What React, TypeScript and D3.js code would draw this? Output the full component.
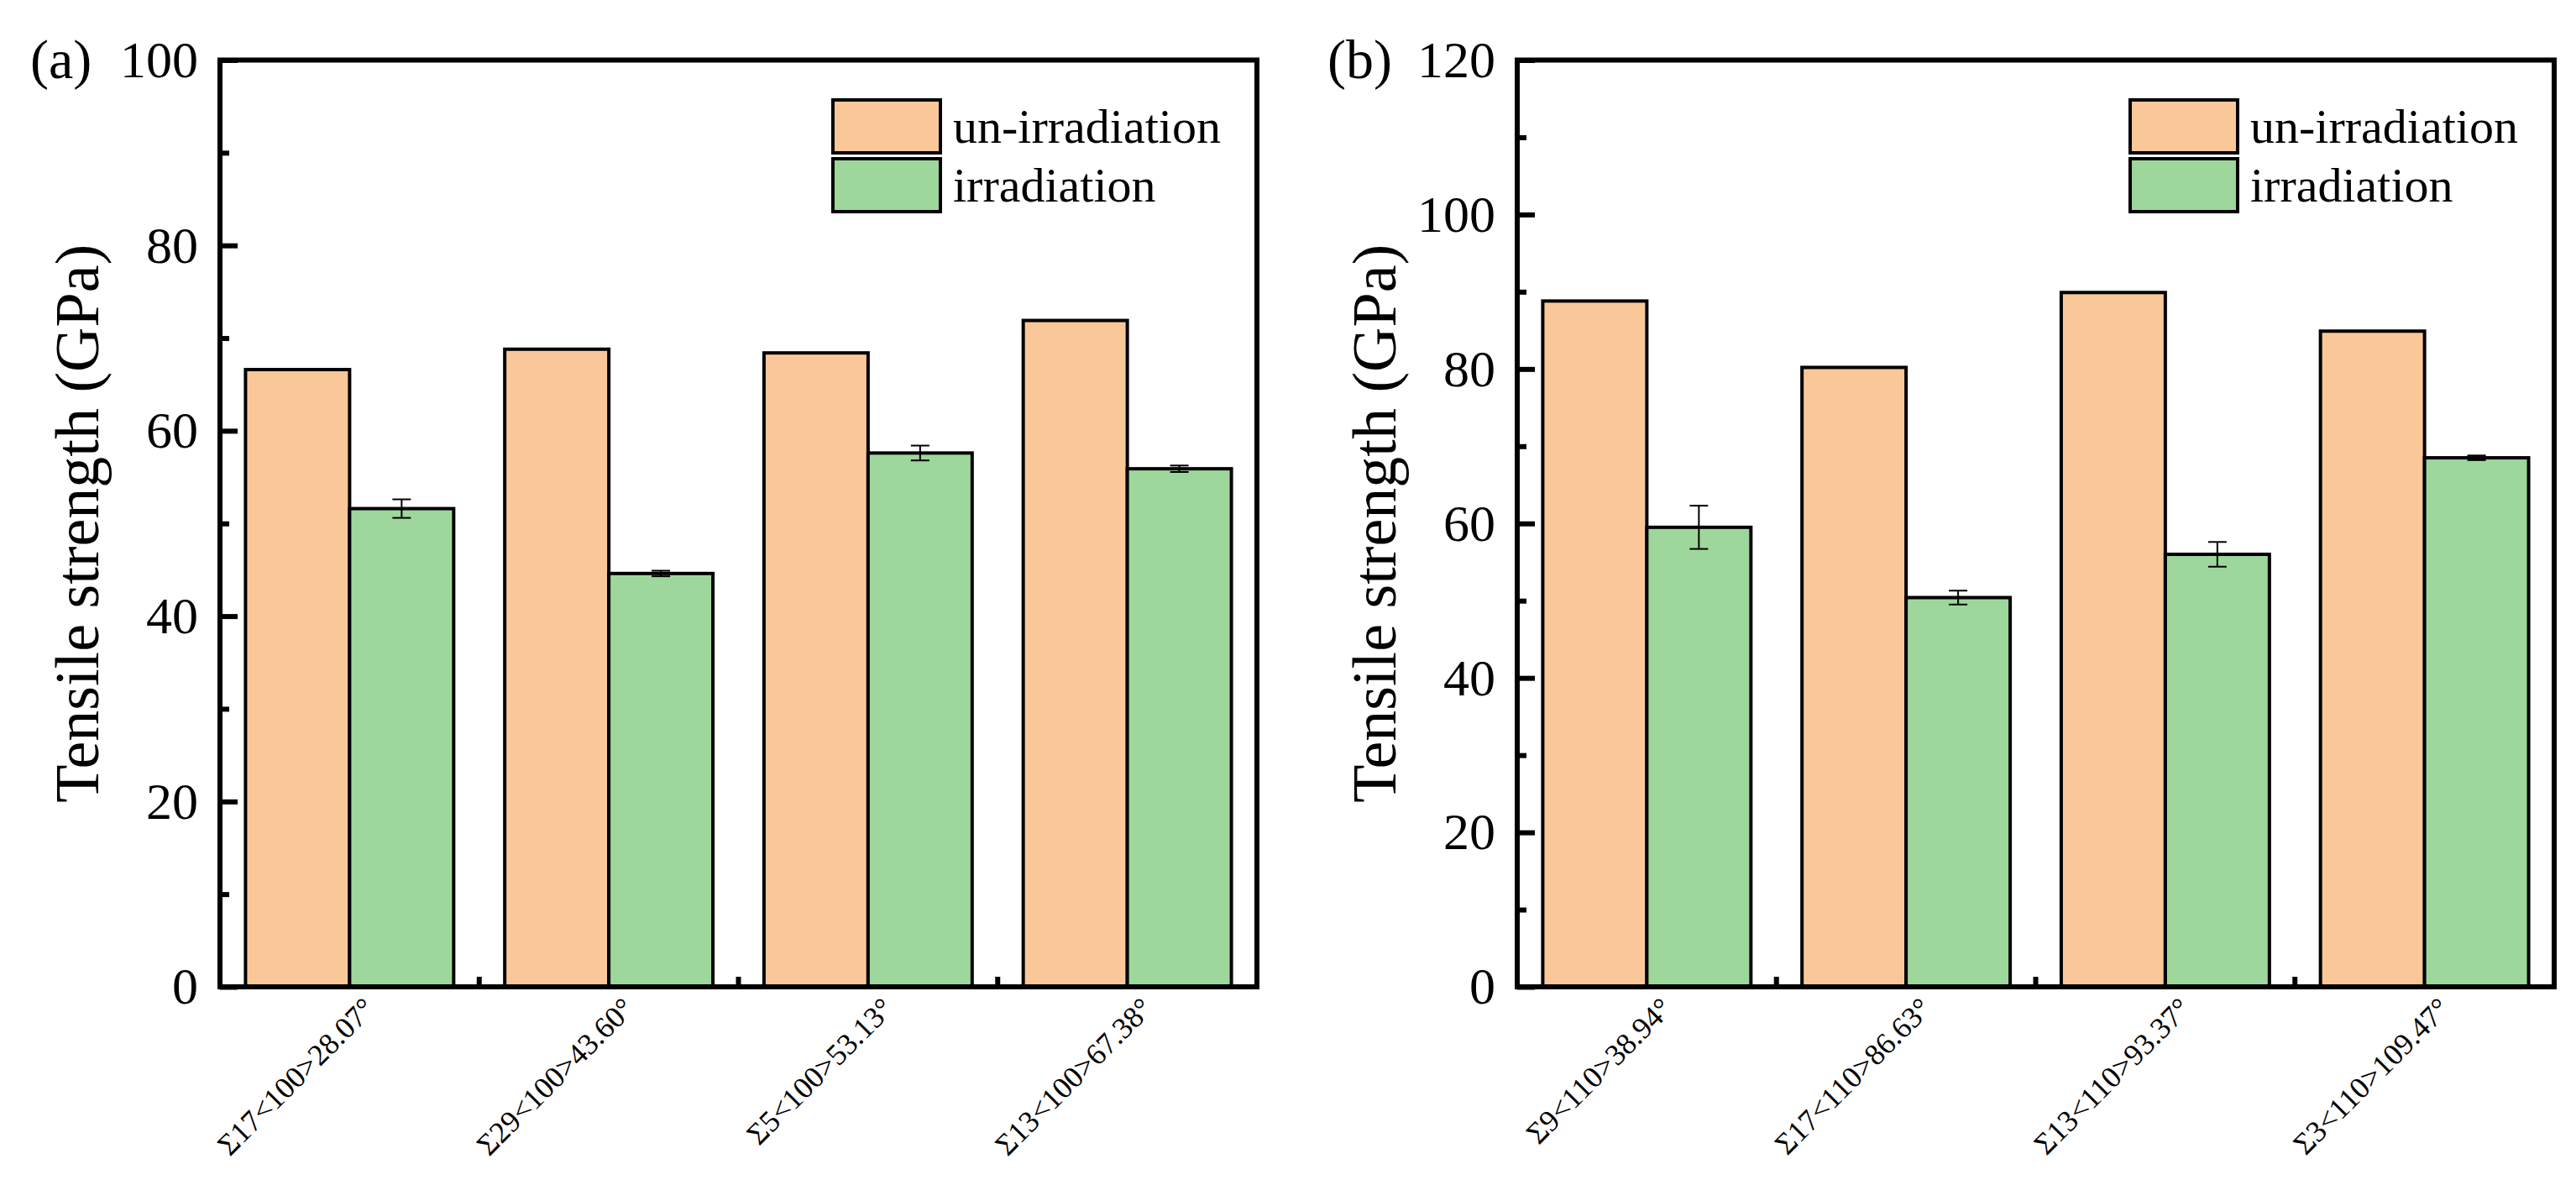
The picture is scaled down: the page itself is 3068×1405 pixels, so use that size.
import React, { useRef, useEffect } from 'react';
import { select, scaleBand, scaleLinear, axisLeft, range } from 'd3';

// panel (a): <100> tilt boundaries
const catsA = ['Σ17<100>28.07°', 'Σ29<100>43.60°', 'Σ5<100>53.13°', 'Σ13<100>67.38°'];
const unirrA = [66.6, 68.8, 68.4, 71.9];
const irrA = [51.6, 44.6, 57.6, 55.9];
const irrErrA = [1.0, 0.3, 0.8, 0.35];

// panel (b): <110> tilt boundaries
const catsB = ['Σ9<110>38.94°', 'Σ17<110>86.63°', 'Σ13<110>93.37°', 'Σ3<110>109.47°'];
const unirrB = [88.8, 80.2, 89.9, 84.9];
const irrB = [59.5, 50.4, 56.0, 68.5];
const irrErrB = [2.8, 0.9, 1.6, 0.3];

const seriesNames = ['un-irradiation', 'irradiation'];
const seriesColors = ['#FAC898', '#9ED79B'];
const yTitle = 'Tensile strength (GPa)';

const FONT = "'Liberation Serif', 'Times New Roman', serif";
const W = 3068;
const H = 1405;
const TOP = 71.5;
const BOTTOM = 1175;
const PW = 1235;

type PanelProps = {
    x0: number;
    tag: string;
    cats: string[];
    unirr: number[];
    irr: number[];
    irrErr: number[];
    yMax: number;
};

function Panel({ x0, tag, cats, unirr, irr, irrErr, yMax }: PanelProps) {
    const gRef = useRef<SVGGElement | null>(null);

    useEffect(() => {
        const g = select(gRef.current as any);
        g.selectAll('*').remove();

        const x = scaleBand<string>().domain(cats).range([x0, x0 + PW]).paddingInner(0.197).paddingOuter(0.0985);
        const sub = scaleBand<string>().domain(seriesNames).range([0, x.bandwidth()]);
        const y = scaleLinear().domain([0, yMax]).range([BOTTOM, TOP]);

        const rows = cats.flatMap((c, i) => [
            { c, s: seriesNames[0], v: unirr[i], color: seriesColors[0] },
            { c, s: seriesNames[1], v: irr[i], color: seriesColors[1] },
        ]);

        g.selectAll('.bar')
            .data(rows)
            .join('rect')
            .attr('class', 'bar')
            .attr('x', (d: any) => (x(d.c) as number) + (sub(d.s) as number))
            .attr('y', (d: any) => y(d.v))
            .attr('width', sub.bandwidth())
            .attr('height', (d: any) => y(0) - y(d.v))
            .attr('fill', (d: any) => d.color)
            .attr('stroke', '#000')
            .attr('stroke-width', 4);

        // error bars on irradiation series
        const errs = cats.map((c, i) => ({ cx: (x(c) as number) + (sub(seriesNames[1]) as number) + sub.bandwidth() / 2, v: irr[i], e: irrErr[i] }));
        const eg = g.append('g').attr('stroke', '#000').attr('stroke-width', 2);
        errs.forEach((d) => {
            eg.append('line').attr('x1', d.cx).attr('x2', d.cx).attr('y1', y(d.v - d.e)).attr('y2', y(d.v + d.e));
            eg.append('line').attr('x1', d.cx - 11).attr('x2', d.cx + 11).attr('y1', y(d.v - d.e)).attr('y2', y(d.v - d.e));
            eg.append('line').attr('x1', d.cx - 11).attr('x2', d.cx + 11).attr('y1', y(d.v + d.e)).attr('y2', y(d.v + d.e));
        });

        // y axis, ticks pointing in
        const yAxis: any = axisLeft(y)
            .tickValues(range(0, yMax + 1, 20))
            .tickSizeInner(-21)
            .tickSizeOuter(0)
            .tickPadding(26);
        const ya = g.append('g').attr('transform', `translate(${x0},0)`).call(yAxis);
        ya.select('.domain').remove();
        ya.attr('font-size', 62).attr('font-family', FONT);
        ya.selectAll('line').attr('stroke-width', 6);
        ya.selectAll('text').attr('fill', '#000');

        const yMinor: any = axisLeft(y)
            .tickValues(range(10, yMax, 20))
            .tickSizeInner(-11)
            .tickSizeOuter(0)
            .tickFormat(() => '');
        const ym = g.append('g').attr('transform', `translate(${x0},0)`).call(yMinor);
        ym.select('.domain').remove();
        ym.selectAll('line').attr('stroke-width', 6);

        // x ticks between groups
        const gap = (x.step() * x.paddingInner()) / 2;
        g.selectAll('.xtick')
            .data(cats.slice(0, -1))
            .join('line')
            .attr('class', 'xtick')
            .attr('x1', (c: any) => (x(c) as number) + x.bandwidth() + gap)
            .attr('x2', (c: any) => (x(c) as number) + x.bandwidth() + gap)
            .attr('y1', BOTTOM)
            .attr('y2', BOTTOM - 12)
            .attr('stroke', '#000')
            .attr('stroke-width', 6);

        // rotated category labels
        g.selectAll('.xlabel')
            .data(cats)
            .join('text')
            .attr('class', 'xlabel')
            .attr('transform', (c: any) => `translate(${(x(c) as number) + x.bandwidth() / 2 + 32},${BOTTOM + 28}) rotate(-45)`)
            .attr('text-anchor', 'end')
            .attr('font-family', FONT)
            .attr('font-size', 36)
            .text((c: any) => c);

        // frame
        g.append('rect')
            .attr('x', x0)
            .attr('y', TOP)
            .attr('width', PW)
            .attr('height', BOTTOM - TOP)
            .attr('fill', 'none')
            .attr('stroke', '#000')
            .attr('stroke-width', 6);

        // axis title
        g.append('text')
            .attr('transform', `translate(${x0 - 145},${(TOP + BOTTOM) / 2}) rotate(-90)`)
            .attr('text-anchor', 'middle')
            .attr('font-family', FONT)
            .attr('font-size', 74)
            .text(yTitle);

        // panel tag
        g.append('text')
            .attr('x', x0 - 226)
            .attr('y', 93)
            .attr('font-family', FONT)
            .attr('font-size', 66)
            .text(tag);

        // legend
        const lg = g.append('g').attr('transform', `translate(${x0 + 730},119)`);
        seriesNames.forEach((name, i) => {
            lg.append('rect')
                .attr('x', 0)
                .attr('y', i * 70)
                .attr('width', 128)
                .attr('height', 63)
                .attr('fill', seriesColors[i])
                .attr('stroke', '#000')
                .attr('stroke-width', 4);
            lg.append('text')
                .attr('x', 143)
                .attr('y', 51 + i * 70)
                .attr('font-family', FONT)
                .attr('font-size', 58)
                .text(name);
        });
    }, [x0, tag, cats, unirr, irr, irrErr, yMax]);

    return <g ref={gRef} />;
}

export default function App() {
    return (
        <svg width={W} height={H} style={{ position: 'absolute', left: 0, top: 0, background: '#fff', display: 'block' }}>
            <rect x={0} y={0} width={W} height={H} fill="#fff" />
            <Panel x0={262} tag="(a)" cats={catsA} unirr={unirrA} irr={irrA} irrErr={irrErrA} yMax={100} />
            <Panel x0={1807} tag="(b)" cats={catsB} unirr={unirrB} irr={irrB} irrErr={irrErrB} yMax={120} />
        </svg>
    );
}
